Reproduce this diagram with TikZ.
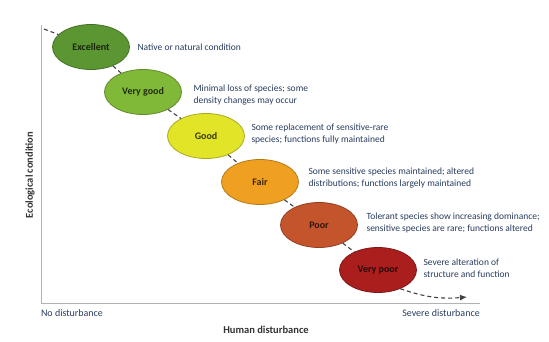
\documentclass[tikz,border=0pt]{standalone}
\usepackage{fontspec}
\setmainfont{Carlito}
\usetikzlibrary{arrows.meta,shapes.geometric}

\definecolor{cexc}{RGB}{92,150,50}
\definecolor{cvgood}{RGB}{128,184,56}
\definecolor{cgood}{RGB}{226,228,40}
\definecolor{cfair}{RGB}{240,160,32}
\definecolor{cpoor}{RGB}{196,84,44}
\definecolor{cvpoor}{RGB}{170,30,30}
\definecolor{desctext}{RGB}{40,60,95}

\tikzset{
  stage/.style={ellipse, minimum width=77pt, minimum height=45pt, inner sep=0pt,
    fill=#1, draw=#1!75!black, line width=0.8pt, font=\bfseries\fontsize{10}{11}\selectfont,
    text=#1!25!black},
  desc/.style={anchor=west, align=left, text=desctext, font=\fontsize{9.5}{11.5}\selectfont},
  axislabel/.style={font=\bfseries\fontsize{10.5}{11}\selectfont, text=black!80},
  endlabel/.style={font=\fontsize{10}{11}\selectfont, text=desctext},
  conn/.style={line width=1.1pt, black!75, dash pattern=on 4pt off 3pt},
}

\begin{document}
\begin{tikzpicture}[x=1pt, y=-1pt]

  \useasboundingbox (0,0) rectangle (549,342);

  % axes
  \draw[black!30, line width=0.6pt] (41,25) -- (41,303) -- (480,303);
  \node[axislabel, rotate=90] (ylab) at (30,175) {Ecological condition};
  \node[axislabel] (xlab) at (266,330) {Human disturbance};
  \node[endlabel] (nodist) at (72,313) {No disturbance};
  \node[endlabel] (sevdist) at (441,313) {Severe disturbance};

  % condition classes
  \foreach \i/\x/\y/\col/\lab in {1/91/47/cexc/Excellent, 2/143/92/cvgood/Very good,
      3/206/136/cgood/Good, 4/260/182/cfair/Fair, 5/319/225/cpoor/Poor,
      6/378/270/cvpoor/Very poor}
  {
    \node[stage=\col] (s\i) at (\x,\y) {\lab};
  }

  \node[desc] (d1) at (134,47) {Native or natural condition};
  \node[desc] (d2) at (190,95) {Minimal loss of species; some\\density changes may occur};
  \node[desc] (d3) at (248,134) {Some replacement of sensitive-rare\\species; functions fully maintained};
  \node[desc] (d4) at (305,178) {Some sensitive species maintained; altered\\distributions; functions largely maintained};
  \node[desc] (d5) at (363,223) {Tolerant species show increasing dominance;\\sensitive species are rare; functions altered};
  \node[desc] (d6) at (420,268) {Severe alteration of\\structure and function};

  % trajectory
  \coordinate (start) at (44,29);
  \coordinate (finish) at (467,297);
  \draw[conn] (start) -- (s1);
  \foreach \i/\j in {1/2,2/3,3/4,4/5,5/6}
    \draw[conn] (s\i) -- (s\j);
  \draw[conn, -{Latex[length=7pt,width=6pt]}] (s6.-40) to[bend right=12] (finish);

\end{tikzpicture}
\end{document}
